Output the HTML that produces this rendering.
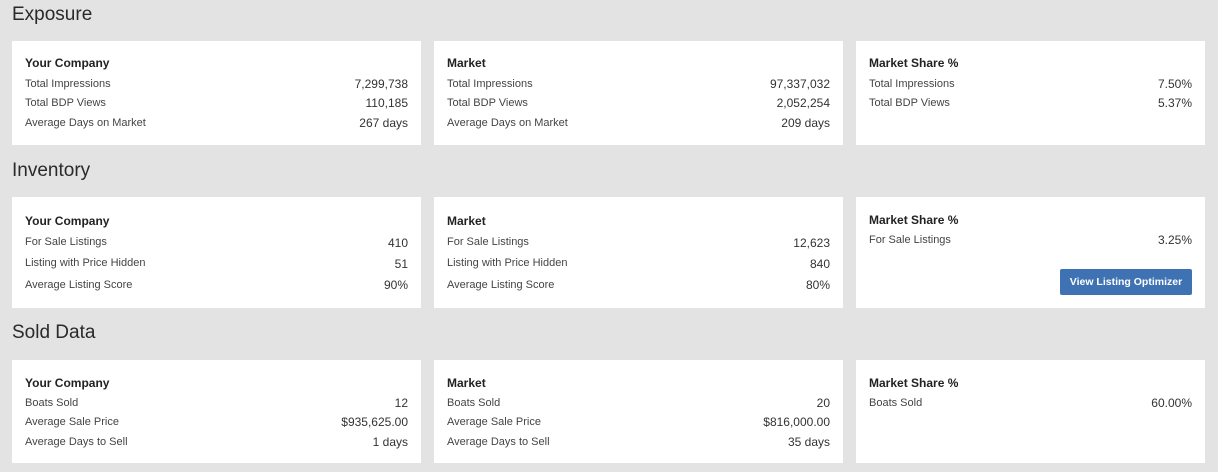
<!DOCTYPE html>
<html><head><meta charset="utf-8"><style>
body{margin:0;width:1218px;height:472px;background:#e3e3e3;font-family:"Liberation Sans",sans-serif;position:relative;overflow:hidden;color:#333}
.t{position:absolute;left:12px;font-size:19px;color:#2a2a2a;line-height:24px}
.c{position:absolute;background:#fff}
.a{position:absolute;line-height:16px;white-space:nowrap}
.h{font-size:12px;font-weight:bold;color:#222}
.l{font-size:11px;color:#444;margin-top:1px}
.v{font-size:12px;color:#333;text-align:right}
.btn{position:absolute;left:1060px;top:269px;width:132px;height:26px;background:#3f72b3;border-radius:2px;color:#fff;font-size:10.5px;font-weight:bold;text-align:center;line-height:26px}
</style></head><body>
<div class="t" style="top:3px">Exposure</div>
<div class="t" style="top:159px">Inventory</div>
<div class="t" style="top:321px">Sold Data</div>

<div class="c" style="left:12px;top:41px;width:409px;height:104px"></div>
<div class="c" style="left:434px;top:41px;width:409px;height:104px"></div>
<div class="c" style="left:856px;top:41px;width:349px;height:104px"></div>
<div class="c" style="left:12px;top:197px;width:409px;height:111px"></div>
<div class="c" style="left:434px;top:197px;width:409px;height:111px"></div>
<div class="c" style="left:856px;top:197px;width:349px;height:111px"></div>
<div class="c" style="left:12px;top:360px;width:409px;height:103px"></div>
<div class="c" style="left:434px;top:360px;width:409px;height:103px"></div>
<div class="c" style="left:856px;top:360px;width:349px;height:103px"></div>

<!-- Exposure -->
<div class="a h" style="left:25px;top:55px">Your Company</div>
<div class="a l" style="left:25px;top:75px">Total Impressions</div>
<div class="a l" style="left:25px;top:94px">Total BDP Views</div>
<div class="a l" style="left:25px;top:114px">Average Days on Market</div>
<div class="a v" style="right:810px;top:76px">7,299,738</div>
<div class="a v" style="right:810px;top:95px">110,185</div>
<div class="a v" style="right:810px;top:115px">267 days</div>

<div class="a h" style="left:447px;top:55px">Market</div>
<div class="a l" style="left:447px;top:75px">Total Impressions</div>
<div class="a l" style="left:447px;top:94px">Total BDP Views</div>
<div class="a l" style="left:447px;top:114px">Average Days on Market</div>
<div class="a v" style="right:388px;top:76px">97,337,032</div>
<div class="a v" style="right:388px;top:95px">2,052,254</div>
<div class="a v" style="right:388px;top:115px">209 days</div>

<div class="a h" style="left:869px;top:55px">Market Share %</div>
<div class="a l" style="left:869px;top:75px">Total Impressions</div>
<div class="a l" style="left:869px;top:94px">Total BDP Views</div>
<div class="a v" style="right:26px;top:76px">7.50%</div>
<div class="a v" style="right:26px;top:95px">5.37%</div>

<!-- Inventory -->
<div class="a h" style="left:25px;top:213px">Your Company</div>
<div class="a l" style="left:25px;top:233px">For Sale Listings</div>
<div class="a l" style="left:25px;top:254px">Listing with Price Hidden</div>
<div class="a l" style="left:25px;top:276px">Average Listing Score</div>
<div class="a v" style="right:810px;top:235px">410</div>
<div class="a v" style="right:810px;top:256px">51</div>
<div class="a v" style="right:810px;top:277px">90%</div>

<div class="a h" style="left:447px;top:213px">Market</div>
<div class="a l" style="left:447px;top:233px">For Sale Listings</div>
<div class="a l" style="left:447px;top:254px">Listing with Price Hidden</div>
<div class="a l" style="left:447px;top:276px">Average Listing Score</div>
<div class="a v" style="right:388px;top:235px">12,623</div>
<div class="a v" style="right:388px;top:256px">840</div>
<div class="a v" style="right:388px;top:277px">80%</div>

<div class="a h" style="left:869px;top:212px">Market Share %</div>
<div class="a l" style="left:869px;top:231px">For Sale Listings</div>
<div class="a v" style="right:26px;top:232px">3.25%</div>
<div class="btn">View Listing Optimizer</div>

<!-- Sold -->
<div class="a h" style="left:25px;top:375px">Your Company</div>
<div class="a l" style="left:25px;top:394px">Boats Sold</div>
<div class="a l" style="left:25px;top:413px">Average Sale Price</div>
<div class="a l" style="left:25px;top:433px">Average Days to Sell</div>
<div class="a v" style="right:810px;top:395px">12</div>
<div class="a v" style="right:810px;top:414px">$935,625.00</div>
<div class="a v" style="right:810px;top:434px">1 days</div>

<div class="a h" style="left:447px;top:375px">Market</div>
<div class="a l" style="left:447px;top:394px">Boats Sold</div>
<div class="a l" style="left:447px;top:413px">Average Sale Price</div>
<div class="a l" style="left:447px;top:433px">Average Days to Sell</div>
<div class="a v" style="right:388px;top:395px">20</div>
<div class="a v" style="right:388px;top:414px">$816,000.00</div>
<div class="a v" style="right:388px;top:434px">35 days</div>

<div class="a h" style="left:869px;top:375px">Market Share %</div>
<div class="a l" style="left:869px;top:394px">Boats Sold</div>
<div class="a v" style="right:26px;top:395px">60.00%</div>
</body></html>
